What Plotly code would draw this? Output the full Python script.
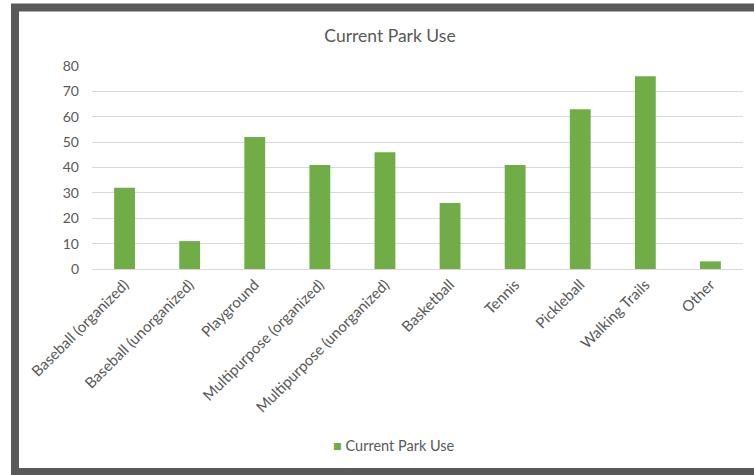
import plotly.graph_objects as go

categories = ["Baseball (organized)", "Baseball (unorganized)", "Playground",
              "Multipurpose (organized)", "Multipurpose (unorganized)", "Basketball",
              "Tennis", "Pickleball", "Walking Trails", "Other"]
values = [32, 11, 52, 41, 46, 26, 41, 63, 76, 3]
y_ticks = [0, 10, 20, 30, 40, 50, 60, 70, 80]
series_name = "Current Park Use"

W, H = 754, 475
L, R, T, B = 92, 11, 66, 206
pw, ph = W - L - R, H - T - B

def px(x):
    return (x - L) / pw

def py(y):
    return (H - B - y) / ph

fig = go.Figure()
fig.add_trace(go.Bar(x=categories, y=values, name=series_name,
                     marker=dict(color="#70ad47", line=dict(width=0))))

fig.update_layout(
    width=W, height=H,
    margin=dict(l=L, r=R, t=T, b=B),
    paper_bgcolor="white", plot_bgcolor="white",
    font=dict(family="Lato, Liberation Sans, sans-serif", color="#595959", size=14),
    title=dict(text=series_name, x=390 / W, xanchor="center", xref="container",
               y=1 - 36 / H, yanchor="middle", yref="container",
               font=dict(size=17.5, color="#595959")),
    bargap=0.68,
    showlegend=False,
    xaxis=dict(tickangle=-45, showgrid=False, showline=True, linecolor="#d9d9d9",
               ticks="", tickfont=dict(size=15, color="#595959")),
    yaxis=dict(range=[0, 80], tickvals=y_ticks, showgrid=True, gridcolor="#d9d9d9",
               zeroline=False, ticks="", ticklabelstandoff=12,
               tickfont=dict(size=14, color="#595959")),
    shapes=[dict(type="rect", xref="paper", yref="paper",
                 x0=px(15), x1=px(765), y0=py(472), y1=py(7.5),
                 line=dict(color="#595959", width=8), fillcolor="rgba(0,0,0,0)",
                 layer="above")],
    annotations=[dict(text='<span style="color:#70ad47">■</span> ' + series_name,
                      xref="paper", yref="paper", x=px(331), y=py(445),
                      xanchor="left", yanchor="middle", showarrow=False,
                      font=dict(size=14.5, color="#595959"))],
)

fig.write_html("out.html", config={"displayModeBar": False},
               post_script="document.body.style.margin='0';")
